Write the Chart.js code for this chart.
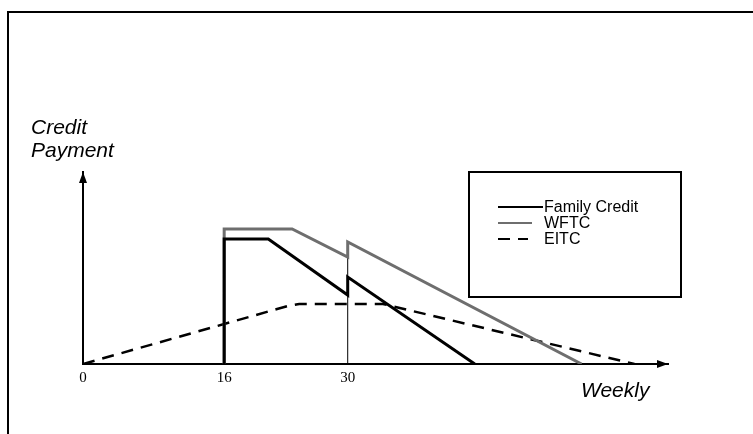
<!DOCTYPE html>
<html>
<head>
<meta charset="utf-8">
<script src="https://cdn.jsdelivr.net/npm/chart.js@4/dist/chart.umd.min.js"></script>
<style>
html,body{margin:0;padding:0;background:#fff;}
#wrap{width:753px;height:434px;position:relative;}
</style>
</head>
<body>
<div id="wrap"><canvas id="c" width="753" height="434"></canvas></div>
<script>
// ---- data ----
const tickValues = [0, 16, 30];
const tickLabels = ['0', '16', '30'];
const seriesNames = ['Family Credit', 'WFTC', 'EITC'];
const familyCreditX = [16, 16, 21, 30, 30, 44.4];
const familyCreditY = [0, 125, 125, 69, 87, 0];
const wftcX = [16, 16, 23.7, 30, 30, 56.5];
const wftcY = [0, 135, 135, 107, 122, 0];
const eitcX = [0, 16, 22, 23.2, 24.5, 34, 62.5];
const eitcY = [0, 40, 55, 58, 60, 60, 0];
const guideX = [30, 30];
const guideY = [0, 122];
const xMax = 66.3;
const yMax = 192;
const yTitle = ['Credit', 'Payment'];
const xTitle = 'Weekly';

const pts = (xs, ys) => xs.map((x, i) => ({x: x, y: ys[i]}));

const decor = {
  id: 'decor',
  beforeDraw(chart) {
    const ctx = chart.ctx;
    ctx.save();
    ctx.fillStyle = '#fff';
    ctx.fillRect(0, 0, chart.width, chart.height);
    // outer frame
    ctx.strokeStyle = '#000';
    ctx.lineWidth = 2;
    ctx.beginPath();
    ctx.moveTo(8, 434);
    ctx.lineTo(8, 12);
    ctx.lineTo(753, 12);
    ctx.stroke();
    ctx.restore();
  },
  afterDraw(chart) {
    const ctx = chart.ctx;
    const a = chart.chartArea;
    const xs = chart.scales.x, ys = chart.scales.y;
    const x0 = xs.getPixelForValue(0), y0 = ys.getPixelForValue(0);
    ctx.save();
    ctx.fillStyle = '#000';
    // arrow heads
    ctx.beginPath();
    ctx.moveTo(a.right, y0);
    ctx.lineTo(a.right - 11, y0 - 4);
    ctx.lineTo(a.right - 11, y0 + 4);
    ctx.closePath();
    ctx.fill();
    ctx.beginPath();
    ctx.moveTo(x0, a.top);
    ctx.lineTo(x0 - 4, a.top + 11);
    ctx.lineTo(x0 + 4, a.top + 11);
    ctx.closePath();
    ctx.fill();
    // axis titles
    ctx.font = 'italic 21px "Liberation Sans", Arial, sans-serif';
    ctx.textBaseline = 'middle';
    ctx.textAlign = 'left';
    ctx.fillText(yTitle[0], 31, 128);
    ctx.fillText(yTitle[1], 31, 151);
    ctx.fillText(xTitle, 581, 391);
    // legend box
    ctx.strokeStyle = '#000';
    ctx.lineWidth = 2;
    ctx.strokeRect(469, 172, 212, 125);
    const ds = chart.data.datasets;
    const rows = [207, 223, 239];
    const lineEnds = [543, 532, 528];
    const lineW = [2, 2, 2];
    ctx.font = '16px "Liberation Sans", Arial, sans-serif';
    for (let i = 0; i < 3; i++) {
      const d = ds[i];
      ctx.save();
      ctx.strokeStyle = d.borderColor;
      ctx.lineWidth = lineW[i];
      ctx.setLineDash(d.borderDash || []);
      ctx.beginPath();
      ctx.moveTo(498, rows[i]);
      ctx.lineTo(lineEnds[i], rows[i]);
      ctx.stroke();
      ctx.restore();
      ctx.fillStyle = '#000';
      ctx.fillText(d.label, 544, rows[i] + 1);
    }
    ctx.restore();
  }
};

new Chart(document.getElementById('c'), {
  type: 'line',
  data: {
    datasets: [
      {label: seriesNames[0], data: pts(familyCreditX, familyCreditY), borderColor: '#000', borderWidth: 3, pointRadius: 0, tension: 0, order: 1},
      {label: seriesNames[1], data: pts(wftcX, wftcY), borderColor: '#6e6e6e', borderWidth: 3, pointRadius: 0, tension: 0, order: 2},
      {label: seriesNames[2], data: pts(eitcX, eitcY), borderColor: '#000', borderWidth: 2.5, borderDash: [12, 8], pointRadius: 0, tension: 0, order: 3},
      {label: 'guide', data: pts(guideX, guideY), borderColor: '#000', borderWidth: 1, pointRadius: 0, tension: 0, order: 4}
    ]
  },
  options: {
    responsive: false,
    animation: false,
    layout: {padding: {left: 0, top: 172, right: 85, bottom: 0}},
    plugins: {legend: {display: false}, tooltip: {enabled: false}, title: {display: false}},
    scales: {
      x: {
        type: 'linear', min: 0, max: xMax,
        grid: {display: false},
        border: {display: true, color: '#000', width: 2},
        afterBuildTicks: s => { s.ticks = tickValues.map(v => ({value: v})); },
        afterFit: s => { s.height = 70; },
        ticks: {
          autoSkip: false, maxRotation: 0, padding: -3, color: '#000',
          font: {family: '"Liberation Serif", "Times New Roman", serif', size: 15},
          callback: v => { const i = tickValues.indexOf(v); return i >= 0 ? tickLabels[i] : ''; }
        }
      },
      y: {
        type: 'linear', min: 0, max: yMax,
        grid: {display: false},
        border: {display: true, color: '#000', width: 2},
        ticks: {display: false},
        afterFit: s => { s.width = 83; }
      }
    }
  },
  plugins: [decor]
});
</script>
</body>
</html>
